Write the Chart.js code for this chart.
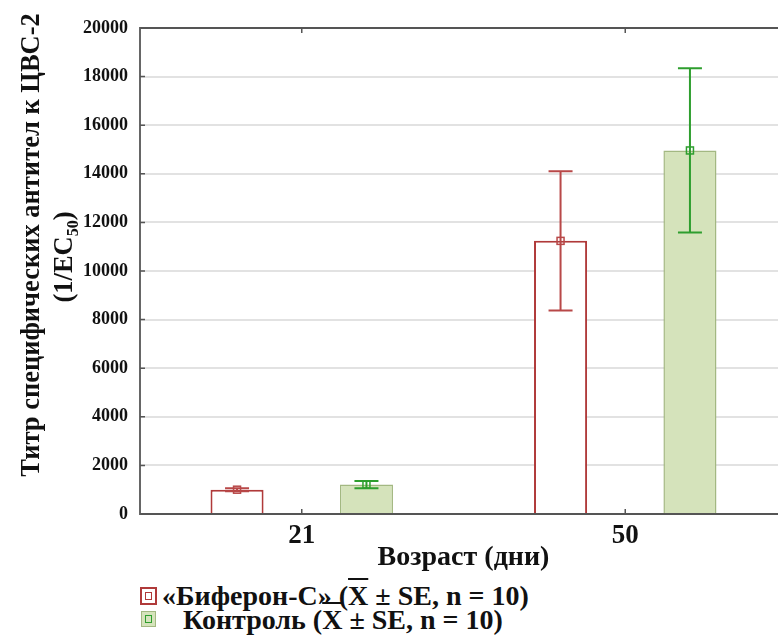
<!DOCTYPE html>
<html>
<head>
<meta charset="utf-8">
<script src="https://cdn.jsdelivr.net/npm/chart.js@4.4.0/dist/chart.umd.min.js"></script>
<style>
  html, body { margin: 0; padding: 0; background: #fff; overflow: hidden; }
  #wrap { position: relative; width: 778px; height: 635px; overflow: hidden; }
  #box { position: absolute; left: 0; top: 0; width: 790px; height: 575px; }
  .leg { position: absolute; font: bold 28px "Liberation Serif", "Times New Roman", serif; color: #111; line-height: 28px; white-space: nowrap; }
  .mk { position: absolute; width: 13px; height: 14px; box-sizing: content-box; }
  .mk i { position: absolute; left: 3px; top: 3px; width: 5px; height: 6px; border: 1.5px solid; }
  .ov { text-decoration: overline; text-decoration-thickness: 2px; }
</style>
</head>
<body>
<div id="wrap">
  <div id="box"><canvas id="chart"></canvas></div>
  <div class="mk" style="left:140px;top:587px;border:2px solid #b03a3a;background:#fff"><i style="border-color:#b03a3a"></i></div>
  <div class="leg" style="left:162px;top:582px">«Биферон-С» (<span class="ov">X</span> ± SE, n = 10)</div>
  <div class="mk" style="left:141px;top:611px;border:1.5px solid #a3b882;background:#d5e3bb"><i style="border-color:#2e9e2e"></i></div>
  <div class="leg" style="left:183px;top:606px">Контроль (<span class="ov">X</span> ± SE, n = 10)</div>
</div>
<script>
// Age groups (days)
const ages = ['21', '50'];

// Antibody titre, mean and standard error
const biferonMean = [1000, 11240];
const biferonSE = [60, 2870];
const controlMean = [1210, 14960];
const controlSE = [150, 3380];

const yMin = 0;
const yMax = 20000;
const yStep = 2000;

const serif = '"Liberation Serif", "Times New Roman", serif';
const errColors = ['#b84848', '#2e9e2e'];
const seArrays = [biferonSE, controlSE];

// error bars + mean markers, inner ticks, y title with subscript
const extras = {
  id: 'extras',
  afterDatasetsDraw(chart) {
    const ctx = chart.ctx;
    const y = chart.scales.y;
    chart.data.datasets.forEach((ds, i) => {
      const meta = chart.getDatasetMeta(i);
      meta.data.forEach((bar, j) => {
        const m = ds.data[j];
        const se = seArrays[i][j];
        const yHi = y.getPixelForValue(m + se);
        const yLo = y.getPixelForValue(m - se);
        const yM = y.getPixelForValue(m);
        ctx.save();
        ctx.strokeStyle = errColors[i];
        ctx.lineWidth = 2;
        ctx.beginPath();
        ctx.moveTo(bar.x, yHi); ctx.lineTo(bar.x, yLo);
        ctx.moveTo(bar.x - 12, yHi); ctx.lineTo(bar.x + 12, yHi);
        ctx.moveTo(bar.x - 12, yLo); ctx.lineTo(bar.x + 12, yLo);
        ctx.stroke();
        ctx.lineWidth = 1.5;
        ctx.strokeRect(bar.x - 3.5, yM - 3.5, 7, 7);
        ctx.restore();
      });
    });
  },
  afterDraw(chart) {
    const ctx = chart.ctx;
    const a = chart.chartArea;
    const x = chart.scales.x;
    const y = chart.scales.y;
    ctx.save();
    ctx.strokeStyle = '#555';
    ctx.lineWidth = 1.5;
    ctx.beginPath();
    y.ticks.forEach(t => {
      const py = y.getPixelForValue(t.value);
      ctx.moveTo(a.left, py); ctx.lineTo(a.left + 5, py);
    });
    ages.forEach((c, i) => {
      const px = x.getPixelForValue(i);
      ctx.moveTo(px, a.bottom); ctx.lineTo(px, a.bottom - 5);
      ctx.moveTo(px, a.top); ctx.lineTo(px, a.top + 5);
    });
    ctx.stroke();

    // rotated y-axis title
    const big = 'bold 26.5px ' + serif;
    const small = 'bold 16px ' + serif;
    ctx.fillStyle = '#111';
    ctx.textBaseline = 'middle';
    ctx.translate(32, 245);
    ctx.rotate(-Math.PI / 2);
    ctx.font = big;
    ctx.textAlign = 'center';
    ctx.fillText('Титр специфических антител к ЦВС-2', 0, 0);
    ctx.rotate(Math.PI / 2);
    ctx.translate(33, 12);
    ctx.rotate(-Math.PI / 2);
    const p1 = '(1/EC', sub = '50', p2 = ')';
    ctx.font = big;
    const w1 = ctx.measureText(p1).width;
    const w3 = ctx.measureText(p2).width;
    ctx.font = small;
    const w2 = ctx.measureText(sub).width;
    const sx = -(w1 + w2 + w3) / 2;
    ctx.textAlign = 'left';
    ctx.font = big;
    ctx.fillText(p1, sx, 0);
    ctx.font = small;
    ctx.fillText(sub, sx + w1, 9);
    ctx.font = big;
    ctx.fillText(p2, sx + w1 + w2, 0);
    ctx.restore();
  }
};

new Chart(document.getElementById('chart'), {
  type: 'bar',
  data: {
    labels: ages,
    datasets: [
      {
        label: '«Биферон-С»',
        data: biferonMean,
        backgroundColor: '#ffffff',
        borderColor: '#b03a3a',
        borderWidth: 2
      },
      {
        label: 'Контроль',
        data: controlMean,
        backgroundColor: '#d5e3bb',
        borderColor: '#a3b882',
        borderWidth: 1.5
      }
    ]
  },
  options: {
    responsive: true,
    maintainAspectRatio: false,
    animation: false,
    categoryPercentage: 0.8,
    barPercentage: 0.41,
    layout: { padding: { left: 0, right: 3, top: 28, bottom: 0 } },
    plugins: {
      legend: { display: false },
      tooltip: { enabled: false }
    },
    scales: {
      x: {
        grid: { display: false },
        border: { display: true, color: '#555', width: 2 },
        ticks: { color: '#111', padding: -2, font: { family: serif, size: 27, weight: 'bold' } },
        title: {
          display: true,
          text: 'Возраст (дни)',
          color: '#111',
          padding: { top: 0, bottom: 0 },
          font: { family: serif, size: 28, weight: 'bold' }
        },
        afterFit: s => { s.height = 61; }
      },
      y: {
        min: yMin,
        max: yMax,
        ticks: {
          stepSize: yStep,
          color: '#111',
          padding: 12,
          callback: v => String(v),
          font: { family: serif, size: 18, weight: 'bold' }
        },
        grid: {
          drawTicks: false,
          color: c => (c.tick.value === yMax || c.tick.value === yMin) ? '#555' : '#e2e2e2',
          lineWidth: 2
        },
        border: { display: true, color: '#666', width: 2 },
        afterFit: s => { s.width = 140; }
      }
    }
  },
  plugins: [extras]
});
</script>
</body>
</html>
